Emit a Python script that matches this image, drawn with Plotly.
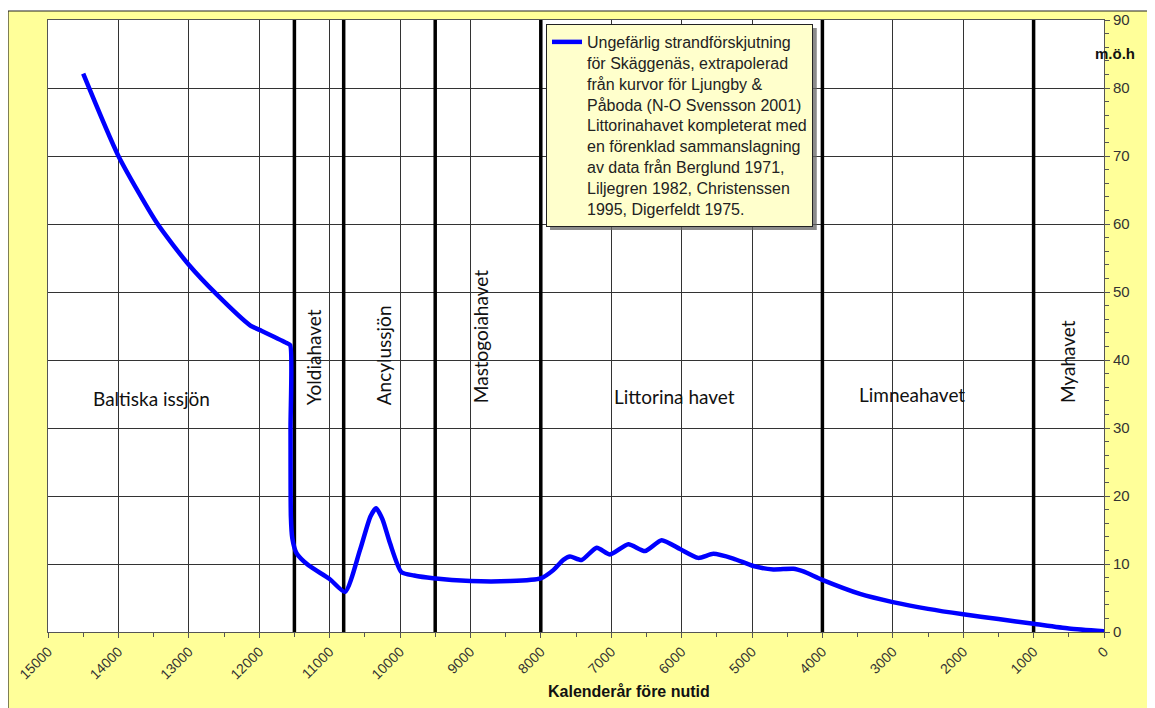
import plotly.graph_objects as go

# Data
years = [14500, 14000, 13450, 13000, 12600, 12130, 11990, 11610, 11560, 11555, 11550,
         11530, 11470, 11300, 11000, 10780, 10570, 10420, 10340, 10250, 10140, 9980,
         9800, 9530, 9000, 8440, 8000, 7822, 7680, 7585, 7420, 7206, 7017, 6757, 6520,
         6283, 6023, 5763, 5550, 5266, 4981, 4697, 4413, 4271, 4010, 3466, 3000, 2500,
         2000, 1500, 1000, 500, 0]
level = [82.1, 70.0, 60.1, 54.0, 49.6, 45.1, 44.4, 42.5, 42.2, 30.0, 17.0,
         13.8, 11.6, 9.8, 7.8, 5.9, 12.0, 17.0, 18.2, 16.6, 13.0, 8.8,
         8.3, 7.9, 7.5, 7.5, 7.9, 9.1, 10.6, 11.1, 10.6, 12.4, 11.4, 12.9, 11.9,
         13.5, 12.2, 10.9, 11.5, 10.8, 9.7, 9.2, 9.3, 8.9, 7.7, 5.6, 4.4, 3.4,
         2.6, 1.9, 1.2, 0.5, 0.1]

period_bounds = [11500, 10800, 9500, 8000, 4000, 1000]

period_names = ["Baltiska issjön", "Yoldiahavet", "Ancylussjön", "Mastogoiahavet",
                "Littorina havet", "Limneahavet", "Myahavet"]
period_x = [13537, 11236, 10241, 8864, 6094, 2727, 525]
period_y = [34.3, 40.4, 40.7, 43.5, 34.6, 34.9, 39.7]
period_angle = [0, -90, -90, -90, 0, 0, -90]

legend_text = ("Ungefärlig strandförskjutning<br>för Skäggenäs, extrapolerad<br>"
               "från kurvor för Ljungby &<br>Påboda (N-O Svensson 2001)<br>"
               "Littorinahavet kompleterat med<br>en förenklad sammanslagning<br>"
               "av data från Berglund 1971,<br>Liljegren 1982, Christenssen<br>"
               "1995, Digerfeldt 1975.")

x_title = "Kalenderår före nutid"
y_title = "m.ö.h"

YELLOW = "#FFFF99"
GRID = "#333333"

fig = go.Figure()

# period boundaries as thick vertical lines (data coords)
for b in period_bounds:
    fig.add_trace(go.Scatter(x=[b, b], y=[0, 90], mode="lines",
                             line=dict(color="black", width=3.5),
                             showlegend=False, hoverinfo="skip"))

fig.add_trace(go.Scatter(x=years, y=level, mode="lines", name=legend_text,
                         line=dict(color="#0000FF", width=4.5, shape="spline", smoothing=0.6),
                         showlegend=True))

# yellow chart background with border
fig.add_shape(type="rect", xref="paper", yref="paper",
              x0=-0.0379, x1=1.07, y0=-0.16, y1=1.0147,
              fillcolor=YELLOW, line=dict(color="#222", width=1.2), layer="below")
fig.add_shape(type="rect", xref="paper", yref="paper",
              x0=0, x1=1, y0=0, y1=1,
              fillcolor="white", line=dict(width=0), layer="below")
# legend shadow
fig.add_shape(type="rect", xref="paper", yref="paper",
              x0=0.4754, x1=0.728, y0=0.657, y1=0.9869,
              fillcolor="rgba(100,100,100,0.75)", line=dict(width=0), layer="above")

for name, xx, yy, ang in zip(period_names, period_x, period_y, period_angle):
    fig.add_annotation(x=xx, y=yy, xref="x", yref="y", text=name, showarrow=False,
                       textangle=ang, xanchor="center", yanchor="middle",
                       font=dict(family="Lato", size=19, color="#111"))

fig.add_annotation(x=0.550, y=-0.098, xref="paper", yref="paper", text="<b>" + x_title + "</b>",
                   showarrow=False, xanchor="center", yanchor="middle",
                   font=dict(family="Liberation Sans, Arial", size=16, color="#111"))
fig.add_annotation(x=1.0104, y=0.946, xref="paper", yref="paper", text="<b>" + y_title + "</b>",
                   showarrow=False, xanchor="center", yanchor="middle",
                   font=dict(family="Liberation Sans, Arial", size=15, color="#111"))

fig.update_layout(
    width=1155, height=708,
    margin=dict(l=40, r=59, t=12, b=84),
    paper_bgcolor="white",
    plot_bgcolor="white",
    font=dict(family="Liberation Sans, Arial", color="#333"),
    legend=dict(x=0.4716, y=0.9935, xanchor="left", yanchor="top",
                bgcolor="#FFFFCC", bordercolor="#222", borderwidth=1,
                font=dict(family="Liberation Sans, Arial", size=16, color="#222"),
                valign="top", itemwidth=30, tracegroupgap=0),
    xaxis=dict(range=[15000, 0], dtick=1000, tick0=0, tickformat="d", automargin=False,
               showgrid=True, gridcolor=GRID, gridwidth=1,
               zeroline=False, showline=True, linecolor="#555", linewidth=1, mirror=True,
               ticks="outside", ticklen=5, tickcolor="#555", tickangle=-45,
               tickfont=dict(size=14, color="#333"),
               minor=dict(dtick=500, ticks="outside", ticklen=4, tickcolor="#555", showgrid=False)),
    yaxis=dict(range=[0, 90], dtick=10, side="right", automargin=False,
               showgrid=True, gridcolor=GRID, gridwidth=1,
               zeroline=False, showline=True, linecolor="#555", linewidth=1, mirror=True,
               ticks="outside", ticklen=5, tickcolor="#555",
               tickfont=dict(size=15, color="#333"),
               minor=dict(dtick=2, ticks="outside", ticklen=4, tickcolor="#555", showgrid=False)),
)

fig.write_html("out.html")
